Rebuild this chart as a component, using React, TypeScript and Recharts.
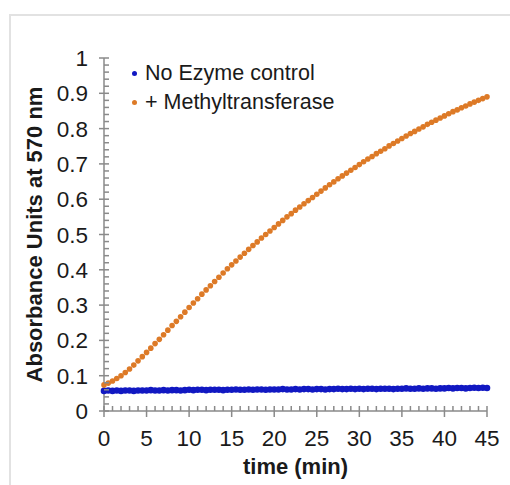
import React from "react";
import { LineChart, Line, XAxis, YAxis, Legend, Label } from "recharts";

const timeMin = [
  0, 0.5, 1, 1.5, 2, 2.5, 3, 3.5, 4, 4.5, 5, 5.5, 6, 6.5, 7, 7.5, 8, 8.5, 9, 9.5,
  10, 10.5, 11, 11.5, 12, 12.5, 13, 13.5, 14, 14.5, 15, 15.5, 16, 16.5, 17, 17.5, 18, 18.5, 19, 19.5,
  20, 20.5, 21, 21.5, 22, 22.5, 23, 23.5, 24, 24.5, 25, 25.5, 26, 26.5, 27, 27.5, 28, 28.5, 29, 29.5,
  30, 30.5, 31, 31.5, 32, 32.5, 33, 33.5, 34, 34.5, 35, 35.5, 36, 36.5, 37, 37.5, 38, 38.5, 39, 39.5,
  40, 40.5, 41, 41.5, 42, 42.5, 43, 43.5, 44, 44.5, 45,
];

const noEnzyme = [
  0.057, 0.058, 0.057, 0.058, 0.057, 0.058, 0.058, 0.057, 0.058, 0.058,
  0.058, 0.059, 0.058, 0.058, 0.059, 0.058, 0.059, 0.059, 0.058, 0.059,
  0.060, 0.059, 0.060, 0.060, 0.059, 0.060, 0.060, 0.060, 0.059, 0.060,
  0.060, 0.061, 0.060, 0.060, 0.061, 0.060, 0.061, 0.061, 0.060, 0.061,
  0.061, 0.061, 0.062, 0.061, 0.061, 0.062, 0.061, 0.062, 0.062, 0.061,
  0.062, 0.062, 0.061, 0.062, 0.062, 0.063, 0.062, 0.062, 0.063, 0.062,
  0.063, 0.062, 0.063, 0.063, 0.062, 0.063, 0.063, 0.063, 0.062, 0.063,
  0.063, 0.064, 0.063, 0.063, 0.064, 0.063, 0.064, 0.064, 0.063, 0.064,
  0.064, 0.065, 0.064, 0.065, 0.065, 0.064, 0.065, 0.066, 0.065, 0.066,
  0.065,
];

const methyltransferase = [
  0.074, 0.079, 0.085, 0.092, 0.100, 0.109, 0.119, 0.130, 0.142, 0.154,
  0.166, 0.178, 0.191, 0.203, 0.216, 0.229, 0.242, 0.254, 0.267, 0.280,
  0.293, 0.306, 0.318, 0.331, 0.343, 0.355, 0.367, 0.379, 0.391, 0.403,
  0.414, 0.425, 0.436, 0.447, 0.458, 0.469, 0.479, 0.490, 0.500, 0.510,
  0.520, 0.530, 0.540, 0.550, 0.559, 0.569, 0.578, 0.587, 0.596, 0.605,
  0.614, 0.623, 0.632, 0.641, 0.649, 0.658, 0.666, 0.674, 0.682, 0.690,
  0.698, 0.706, 0.714, 0.721, 0.729, 0.736, 0.743, 0.751, 0.758, 0.765,
  0.772, 0.779, 0.786, 0.792, 0.799, 0.805, 0.812, 0.818, 0.824, 0.830,
  0.836, 0.842, 0.848, 0.853, 0.859, 0.864, 0.870, 0.875, 0.880, 0.885,
  0.890,
];

const xTicks = [
  0, 1, 2, 3, 4, 5, 6, 7, 8, 9, 10, 11, 12, 13, 14, 15, 16, 17, 18, 19, 20, 21, 22, 23,
  24, 25, 26, 27, 28, 29, 30, 31, 32, 33, 34, 35, 36, 37, 38, 39, 40, 41, 42, 43, 44, 45,
];
const xLabelEvery = 5;

const yTicks = [
  0, 0.02, 0.04, 0.06, 0.08, 0.1, 0.12, 0.14, 0.16, 0.18, 0.2, 0.22, 0.24, 0.26, 0.28,
  0.3, 0.32, 0.34, 0.36, 0.38, 0.4, 0.42, 0.44, 0.46, 0.48, 0.5, 0.52, 0.54, 0.56, 0.58,
  0.6, 0.62, 0.64, 0.66, 0.68, 0.7, 0.72, 0.74, 0.76, 0.78, 0.8, 0.82, 0.84, 0.86, 0.88,
  0.9, 0.92, 0.94, 0.96, 0.98, 1,
];

const seriesNames = ["No Ezyme control", "+ Methyltransferase"];
const seriesColors = ["#1118C2", "#DD7A27"];

const data = timeMin.map((t, i) => ({
  t,
  ctrl: noEnzyme[i],
  mt: methyltransferase[i],
}));

const FONT = "'Liberation Sans', Arial, sans-serif";
const AXIS = "#8a8a8a";
const TXT = "#1a1a1a";

const XTick = (props: any) => {
  const { x, y, payload } = props;
  const v = payload.value;
  const major = v % xLabelEvery === 0;
  return (
    <g>
      <line x1={x} x2={x} y1={y - 5} y2={major ? y + 6 : y} stroke={AXIS} strokeWidth={1.5} />
      {major && (
        <text x={x} y={y + 35} textAnchor="middle" fontSize={22.5} fill={TXT} fontFamily={FONT}>
          {v}
        </text>
      )}
    </g>
  );
};

const YTick = (props: any) => {
  const { x, y, payload } = props;
  const v = payload.value;
  const major = Math.abs(v * 10 - Math.round(v * 10)) < 1e-6;
  return (
    <g>
      <line x1={major ? x - 5 : x} x2={x + 5} y1={y} y2={y} stroke={AXIS} strokeWidth={1.5} />
      {major && (
        <text x={x - 16} y={y + 8} textAnchor="end" fontSize={22.5} fill={TXT} fontFamily={FONT}>
          {String(Math.round(v * 10) / 10)}
        </text>
      )}
    </g>
  );
};

const LegendContent = () => (
  <div style={{ fontFamily: FONT, fontSize: 21.5, color: TXT, lineHeight: "29px" }}>
    {seriesNames.map((n, i) => (
      <div key={n} style={{ display: "flex", alignItems: "center", whiteSpace: "nowrap" }}>
        <span
          style={{
            display: "inline-block",
            width: 5,
            height: 5,
            borderRadius: "50%",
            background: seriesColors[i],
            marginRight: 8,
          }}
        />
        <span>{n}</span>
      </div>
    ))}
  </div>
);

export default function App() {
  return (
    <div style={{ position: "absolute", left: 0, top: 0, width: 510, height: 485, background: "#fff" }}>
      <div
        style={{
          position: "absolute",
          left: 9,
          top: 14,
          right: 0,
          bottom: 0,
          borderTop: "2px solid #e2e2e2",
          borderLeft: "2px solid #e2e2e2",
        }}
      />
      <div style={{ position: "absolute", left: 0, top: 0 }}>
        <LineChart width={510} height={485} data={data} margin={{ top: 58, right: 23, bottom: 14, left: 0 }}>
          <XAxis
            dataKey="t"
            type="number"
            domain={[0, 45]}
            ticks={xTicks}
            interval={0}
            height={60}
            stroke={AXIS}
            strokeWidth={1.5}
            tickLine={false}
            tickSize={0}
            tickMargin={0}
            tick={<XTick />}
          >
            <Label
              content={(p: any) => {
                const vb = p.viewBox;
                return (
                  <text
                    x={vb.x + vb.width / 2}
                    y={vb.y + 63}
                    textAnchor="middle"
                    fontSize={22}
                    fontWeight="bold"
                    fill={TXT}
                    fontFamily={FONT}
                  >
                    time (min)
                  </text>
                );
              }}
            />
          </XAxis>
          <YAxis
            type="number"
            domain={[0, 1]}
            ticks={yTicks}
            interval={0}
            width={104}
            stroke={AXIS}
            strokeWidth={1.5}
            tickLine={false}
            tickSize={0}
            tickMargin={0}
            tick={<YTick />}
          >
            <Label
              content={(p: any) => {
                const vb = p.viewBox;
                const cx = vb.x + 34;
                const cy = vb.y + vb.height / 2;
                return (
                  <text
                    x={cx}
                    y={cy}
                    transform={`rotate(-90, ${cx}, ${cy})`}
                    textAnchor="middle"
                    dominantBaseline="central"
                    fontSize={22}
                    fontWeight="bold"
                    fill={TXT}
                    fontFamily={FONT}
                  >
                    Absorbance Units at 570 nm
                  </text>
                );
              }}
            />
          </YAxis>
          <Legend
            layout="vertical"
            align="center"
            verticalAlign="middle"
            content={<LegendContent />}
            wrapperStyle={{ top: 59, left: 132, width: 280, height: 60 }}
          />
          <Line
            dataKey="ctrl"
            name={seriesNames[0]}
            stroke="none"
            isAnimationActive={false}
            dot={{ r: 3.3, fill: seriesColors[0], stroke: "none" }}
            activeDot={false}
          />
          <Line
            dataKey="mt"
            name={seriesNames[1]}
            stroke="none"
            isAnimationActive={false}
            dot={{ r: 2.8, fill: seriesColors[1], stroke: "none" }}
            activeDot={false}
          />
        </LineChart>
      </div>
    </div>
  );
}
